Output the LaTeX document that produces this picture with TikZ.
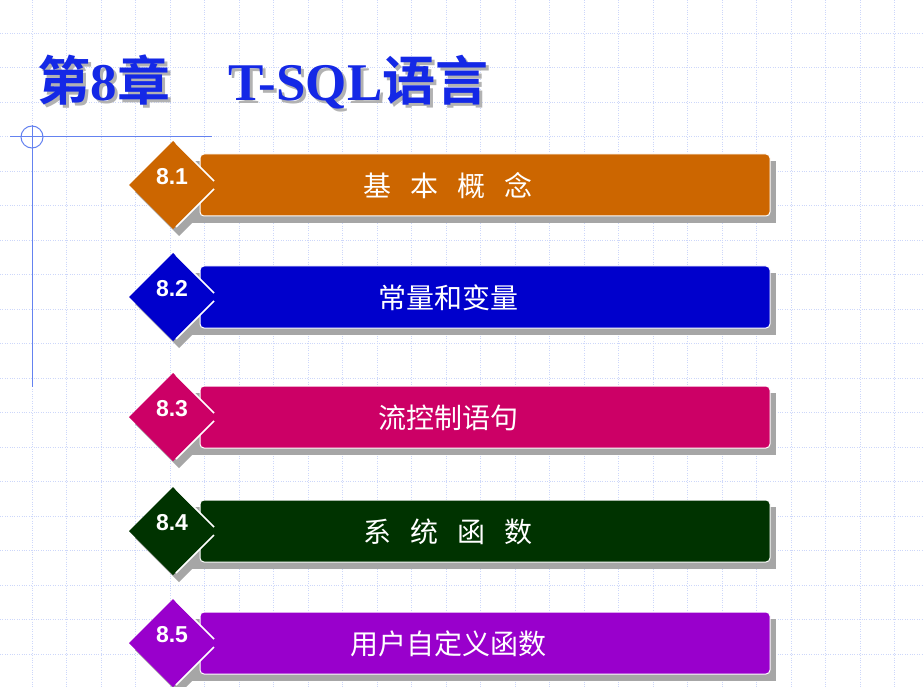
\documentclass[tikz,border=0pt]{standalone}
\usepackage{fontspec}
\newfontfamily\cjk{Noto Sans CJK SC}
\newfontfamily\cjkb{Noto Sans CJK SC Bold}
\newfontfamily\latb{Liberation Serif}
\setsansfont{Liberation Sans}
\definecolor{gridblue}{RGB}{205,215,250}
\definecolor{lineblue}{RGB}{100,130,240}
\definecolor{titleblue}{RGB}{20,40,230}
\definecolor{baro}{RGB}{204,102,0}
\definecolor{barb}{RGB}{0,0,204}
\definecolor{barm}{RGB}{204,0,102}
\definecolor{barg}{RGB}{0,51,0}
\definecolor{barp}{RGB}{153,0,204}
\usetikzlibrary{positioning}
\newcommand{\chaptitle}{第{\latb\bfseries 8}章\hspace{1.1em}{\latb\bfseries T-SQL}语言}
\tikzset{
  barbox/.style={rounded corners=4pt, draw=white, line width=1pt},
  numlabel/.style={text=white, font=\sffamily\bfseries\fontsize{23}{23}\selectfont},
  bartext/.style={text=white, font=\cjk\fontsize{28}{28}\selectfont}
}
\begin{document}
\begin{tikzpicture}[x=1pt,y=-1pt]
  \useasboundingbox (0,0) rectangle (924,687);
  \fill[white] (0,0) rectangle (924,687);

  % grid
  \foreach \i in {0,...,27} {
    \draw[gridblue, dotted] (32+34.5*\i,0) -- (32+34.5*\i,687);
  }
  \foreach \j in {0,...,19} {
    \draw[gridblue, dotted] (0,-1.5+34.5*\j) -- (924,-1.5+34.5*\j);
  }

  % corner mark
  \draw[lineblue, line width=1pt] (10,137) -- (212,137);
  \draw[lineblue, line width=1pt] (32,125) -- (32,387);
  \draw[lineblue, line width=1pt] (32,137) circle (11);

  % title
  \node[anchor=west, text=gray!60, font=\cjkb\fontsize{53}{53}\selectfont] (titleshadow) at (37,85) {\chaptitle};
  \node[anchor=west, text=titleblue, font=\cjkb\fontsize{53}{53}\selectfont] (title) at (34,82) {\chaptitle};

  % items
  \foreach \y/\c/\n/\t in {185/baro/8.1/基\ \ \ 本\ \ \ 概\ \ \ 念,
                           297/barb/8.2/常量和变量,
                           417/barm/8.3/流控制语句,
                           531/barg/8.4/系\ \ \ 统\ \ \ 函\ \ \ 数,
                           643/barp/8.5/用户自定义函数} {
    \fill[gray!70] (182,\y-24) rectangle (776,\y+38);
    \fill[gray!70] (179,\y-37) -- (223,\y+7) -- (179,\y+51) -- (135,\y+7) -- cycle;
    \draw[barbox, fill=\c] (200,\y-31) rectangle (770,\y+31);
    \fill[\c] (173,\y-44) -- (217,\y) -- (173,\y+44) -- (129,\y) -- cycle;
    \draw[white, line width=1.5pt] (176,\y-42) -- (214,\y-4);
    \draw[white, line width=1.5pt] (214,\y+4) -- (176,\y+42);
    \node[numlabel] (num\n) at (172,\y-8) {\n};
    \node[bartext] (txt\n) at (448,\y+1) {\t};
  }
\end{tikzpicture}
\end{document}
